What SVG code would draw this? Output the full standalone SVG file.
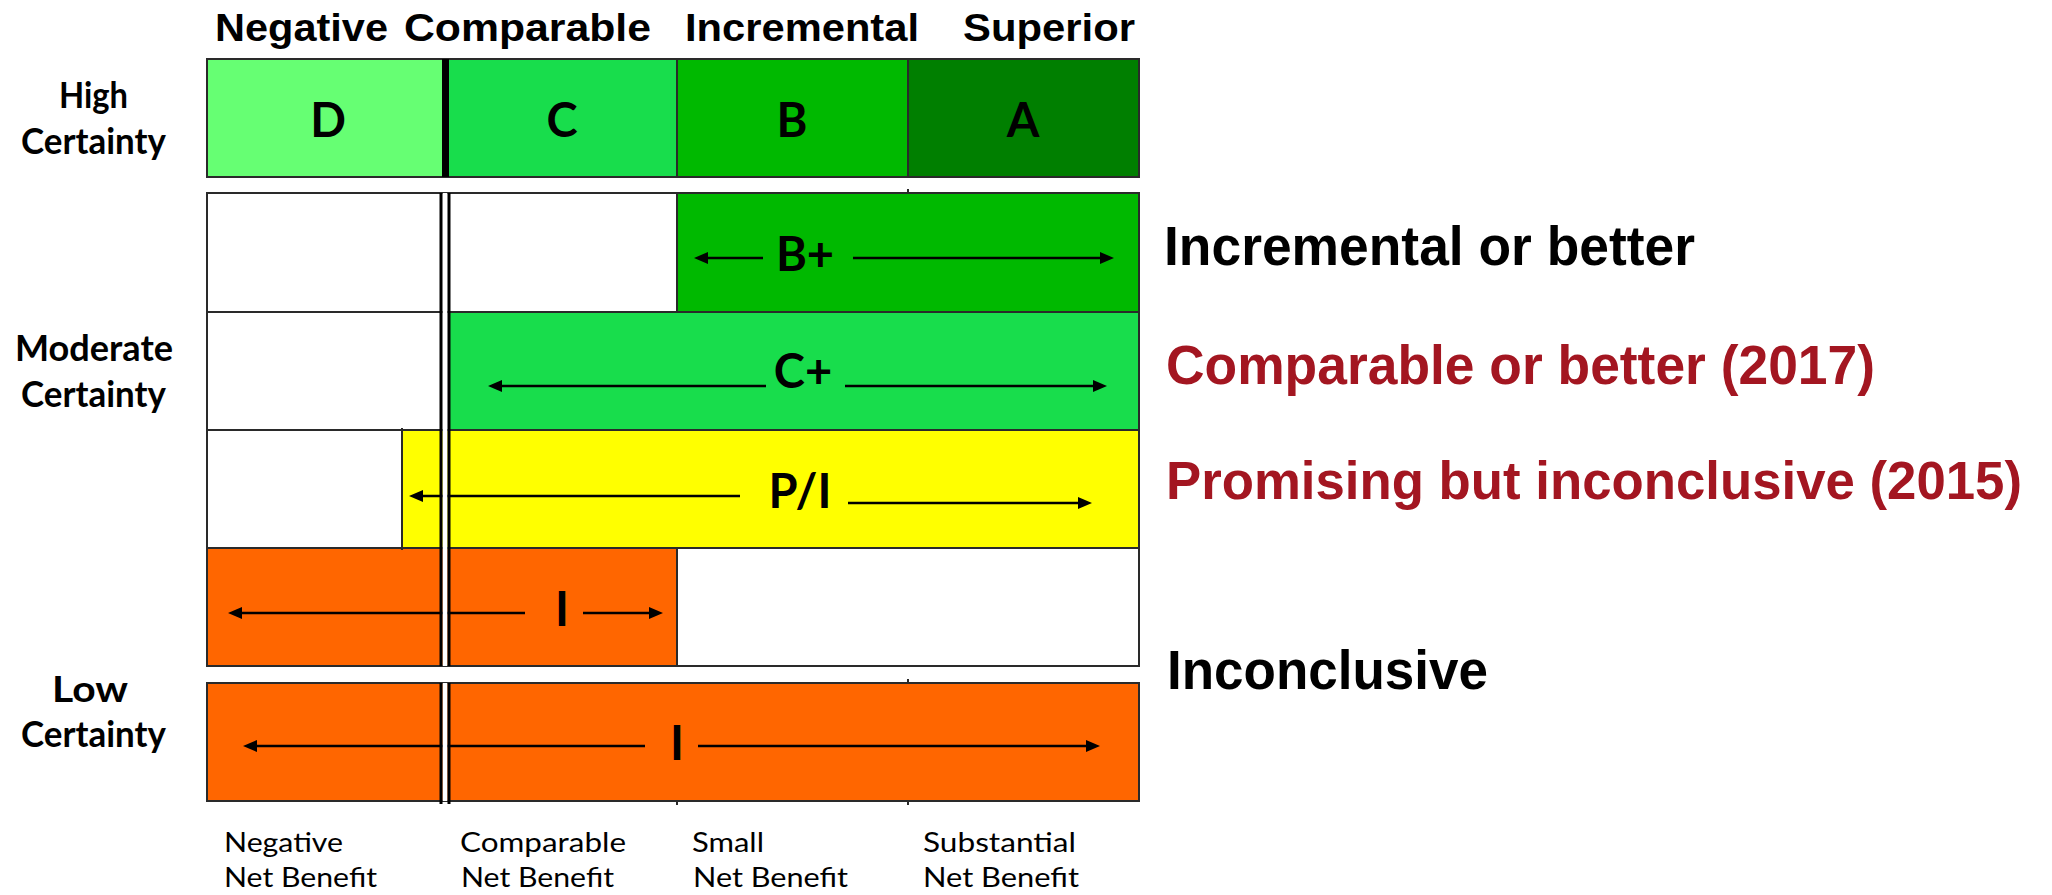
<svg xmlns="http://www.w3.org/2000/svg" width="2052" height="895" viewBox="0 0 2052 895">
  <defs>
    <marker id="head" viewBox="0 0 14 12" refX="4" refY="6" markerWidth="14" markerHeight="12" markerUnits="userSpaceOnUse" orient="auto">
      <path d="M0,0 L14,6 L0,12 z" fill="#000"/>
    </marker>
    <style>
      .hdr { font-family: "Liberation Sans", Arial, sans-serif; font-weight: bold; font-size: 38px; fill: #000; }
      .side { font-family: "Liberation Sans", Arial, sans-serif; font-weight: bold; font-size: 56px; }
      .narrow { font-size: 53px; }
      .blk { fill: #000; }
      .red { fill: #A31621; }
      .cert { font-family: Lato, "Open Sans", sans-serif; font-weight: bold; font-size: 36px; fill: #000; }
      .axis { font-family: Lato, "Open Sans", sans-serif; font-size: 26px; fill: #000; }
      .grade { font-family: Lato, "Open Sans", sans-serif; font-weight: bold; font-size: 47px; fill: #000; text-anchor: middle; }
      .edge { fill: none; stroke: #2a2a2a; stroke-width: 2; }
      .thin { stroke: #2a2a2a; stroke-width: 2; }
      .arrow { stroke: #000; stroke-width: 2.6; fill: none; marker-end: url(#head); }
      .dA { fill: #007F00; }
      .dB { fill: #00B900; }
      .dC { fill: #18DD4C; }
      .dD { fill: #66FF73; }
      .yel { fill: #FFFF00; }
      .org { fill: #FF6600; }
      .wht { fill: #FFFFFF; }
    </style>
  </defs>

  <rect width="2052" height="895" fill="#FFFFFF"/>

  <!-- column headings -->
  <g id="headings">
    <text class="hdr" x="215" y="41" textLength="173" lengthAdjust="spacingAndGlyphs">Negative</text>
    <text class="hdr" x="404" y="41" textLength="247" lengthAdjust="spacingAndGlyphs">Comparable</text>
    <text class="hdr" x="685" y="41" textLength="234" lengthAdjust="spacingAndGlyphs">Incremental</text>
    <text class="hdr" x="963" y="41" textLength="172" lengthAdjust="spacingAndGlyphs">Superior</text>
  </g>

  <!-- certainty labels -->
  <g id="certainty-labels">
    <text class="cert" x="59" y="108" textLength="69" lengthAdjust="spacingAndGlyphs">High</text>
    <text class="cert" x="21" y="154" textLength="145" lengthAdjust="spacingAndGlyphs">Certainty</text>
    <text class="cert" x="15" y="361" textLength="158" lengthAdjust="spacingAndGlyphs">Moderate</text>
    <text class="cert" x="21" y="407" textLength="145" lengthAdjust="spacingAndGlyphs">Certainty</text>
    <text class="cert" x="52" y="702" textLength="76" lengthAdjust="spacingAndGlyphs">Low</text>
    <text class="cert" x="21" y="747" textLength="145" lengthAdjust="spacingAndGlyphs">Certainty</text>
  </g>

  <!-- high certainty row -->
  <g id="high-row">
    <g id="cell-D">
      <rect class="dD" x="207" y="59" width="237" height="118"/>
      <text class="grade" x="328" y="137">D</text>
    </g>
    <g id="cell-C">
      <rect class="dC" x="449" y="59" width="228" height="118"/>
      <text class="grade" x="562" y="137">C</text>
    </g>
    <g id="cell-B">
      <rect class="dB" x="677" y="59" width="231" height="118"/>
      <text class="grade" x="792" y="137">B</text>
    </g>
    <g id="cell-A">
      <rect class="dA" x="908" y="59" width="231" height="118"/>
      <text class="grade" x="1023" y="137">A</text>
    </g>
    <line class="thin" x1="677" y1="59" x2="677" y2="177"/>
    <line class="thin" x1="908" y1="59" x2="908" y2="177"/>
    <rect class="edge" x="207" y="59" width="932" height="118"/>
    <rect x="442" y="59" width="7" height="118" fill="#000"/>
  </g>

  <!-- moderate certainty block -->
  <g id="moderate-block">
    <g id="band-Bplus">
      <rect class="wht" x="207" y="193" width="470" height="119"/>
      <rect class="dB" x="677" y="193" width="462" height="119"/>
      <text class="grade" x="805" y="271">B+</text>
    </g>
    <g id="band-Cplus">
      <rect class="wht" x="207" y="312" width="243" height="118"/>
      <rect class="dC" x="450" y="312" width="689" height="118"/>
      <text class="grade" x="803" y="388">C+</text>
    </g>
    <g id="band-PI">
      <rect class="wht" x="207" y="430" width="195" height="118"/>
      <rect class="yel" x="402" y="430" width="737" height="118"/>
      <text class="grade" x="800" y="508">P/I</text>
    </g>
    <g id="band-I-moderate">
      <rect class="org" x="207" y="548" width="470" height="118"/>
      <rect class="wht" x="677" y="548" width="462" height="118"/>
      <text class="grade" x="562" y="626">I</text>
    </g>
    <line class="thin" x1="207" y1="312" x2="1139" y2="312"/>
    <line class="thin" x1="207" y1="430" x2="1139" y2="430"/>
    <line class="thin" x1="207" y1="548" x2="1139" y2="548"/>
    <line class="thin" x1="677" y1="193" x2="677" y2="312"/>
    <line class="thin" x1="677" y1="548" x2="677" y2="666"/>
    <line class="thin" x1="402" y1="428" x2="402" y2="550"/>
    <line class="thin" x1="908" y1="189" x2="908" y2="193"/>
    <rect class="edge" x="207" y="193" width="932" height="473"/>
  </g>

  <!-- low certainty block -->
  <g id="low-block">
    <g id="band-I-low">
      <rect class="org" x="207" y="683" width="932" height="118"/>
      <text class="grade" x="677" y="760">I</text>
    </g>
    <rect class="edge" x="207" y="683" width="932" height="118"/>
    <line class="thin" x1="908" y1="679" x2="908" y2="683"/>
    <line class="thin" x1="677" y1="801" x2="677" y2="805"/>
    <line class="thin" x1="908" y1="801" x2="908" y2="805"/>
  </g>

  <!-- arrows -->
  <g id="connectors">
    <line class="arrow" x1="763" y1="258" x2="704" y2="258"/>
    <line class="arrow" x1="853" y1="258" x2="1104" y2="258"/>
    <line class="arrow" x1="766" y1="386" x2="498" y2="386"/>
    <line class="arrow" x1="845" y1="386" x2="1097" y2="386"/>
    <line class="arrow" x1="740" y1="496" x2="419" y2="496"/>
    <line class="arrow" x1="848" y1="503" x2="1082" y2="503"/>
    <line class="arrow" x1="525" y1="613" x2="238" y2="613"/>
    <line class="arrow" x1="583" y1="613" x2="653" y2="613"/>
    <line class="arrow" x1="645" y1="746" x2="253" y2="746"/>
    <line class="arrow" x1="698" y1="746" x2="1090" y2="746"/>
  </g>

  <!-- double divider between negative and comparable -->
  <g id="divider">
    <rect class="wht" x="442.5" y="193" width="5" height="473"/>
    <rect x="439.5" y="193" width="3" height="473" fill="#000"/>
    <rect x="447.5" y="193" width="3" height="473" fill="#000"/>
    <rect class="wht" x="442.5" y="683" width="5" height="118"/>
    <rect x="439.5" y="683" width="3" height="121" fill="#000"/>
    <rect x="447.5" y="683" width="3" height="121" fill="#000"/>
  </g>

  <!-- net benefit axis -->
  <g id="axis-labels">
    <text class="axis" x="224" y="852" textLength="119" lengthAdjust="spacingAndGlyphs">Negative</text>
    <text class="axis" x="224" y="887" textLength="153" lengthAdjust="spacingAndGlyphs">Net Benefit</text>
    <text class="axis" x="460" y="852" textLength="166" lengthAdjust="spacingAndGlyphs">Comparable</text>
    <text class="axis" x="461" y="887" textLength="153" lengthAdjust="spacingAndGlyphs">Net Benefit</text>
    <text class="axis" x="692" y="852" textLength="72" lengthAdjust="spacingAndGlyphs">Small</text>
    <text class="axis" x="693" y="887" textLength="155" lengthAdjust="spacingAndGlyphs">Net Benefit</text>
    <text class="axis" x="923" y="852" textLength="153" lengthAdjust="spacingAndGlyphs">Substantial</text>
    <text class="axis" x="923" y="887" textLength="156" lengthAdjust="spacingAndGlyphs">Net Benefit</text>
  </g>

  <!-- category descriptions -->
  <g id="descriptions">
    <text class="side blk" x="1164" y="265" textLength="531" lengthAdjust="spacingAndGlyphs">Incremental or better</text>
    <text class="side red" x="1166" y="384" textLength="709" lengthAdjust="spacingAndGlyphs">Comparable or better (2017)</text>
    <text class="side narrow red" x="1166" y="499" textLength="856" lengthAdjust="spacingAndGlyphs">Promising but inconclusive (2015)</text>
    <text class="side blk" x="1167" y="689" textLength="321" lengthAdjust="spacingAndGlyphs">Inconclusive</text>
  </g>
</svg>
